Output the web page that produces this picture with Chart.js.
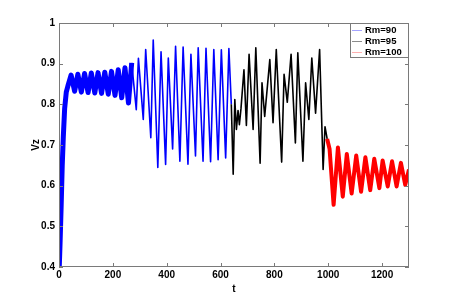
<!DOCTYPE html>
<html>
<head>
<meta charset="utf-8">
<script src="https://cdn.jsdelivr.net/npm/chart.js@4.4.1/dist/chart.umd.min.js"></script>
<style>
  body { margin: 0; background: #fff; }
</style>
</head>
<body>
<canvas id="vzChart" width="452" height="300"></canvas>
<script>
// values (peaks / troughs of each run)
const blueT = [1, 4, 8, 12, 16, 21, 27, 33, 45, 58, 70, 83, 95, 108, 120, 133, 145, 158, 170, 183, 195, 208, 220, 233, 245, 258, 270,
  287, 295, 313, 322, 341, 350, 367, 379, 396, 406, 422, 433, 449, 461, 479, 490, 507, 517, 535, 546, 563, 575, 591, 603, 619, 631, 640];
const blueV = [0.40, 0.46, 0.55, 0.65, 0.72, 0.79, 0.83, 0.845, 0.872, 0.832, 0.874, 0.830, 0.876, 0.829, 0.877, 0.828, 0.878, 0.827, 0.879, 0.825, 0.881, 0.822, 0.885, 0.816, 0.890, 0.803, 0.902,
  0.787, 0.913, 0.763, 0.935, 0.718, 0.958, 0.645, 0.929, 0.652, 0.914, 0.690, 0.943, 0.660, 0.941, 0.653, 0.923, 0.673, 0.939, 0.660, 0.938, 0.659, 0.935, 0.664, 0.934, 0.668, 0.937, 0.80];

const blackT = [640, 647, 653, 659, 665, 670, 676, 687, 696, 706, 721, 731, 747, 754, 764, 783, 795, 807, 827,
  836, 848, 862, 878, 887, 906, 916, 928, 939, 953, 968, 981, 988, 996];
const blackV = [0.80, 0.628, 0.812, 0.738, 0.785, 0.750, 0.790, 0.885, 0.748, 0.923, 0.738, 0.939, 0.655, 0.853, 0.770, 0.910, 0.755, 0.935, 0.658,
  0.874, 0.805, 0.923, 0.705, 0.927, 0.660, 0.853, 0.763, 0.914, 0.778, 0.935, 0.640, 0.745, 0.715];

const redT = [996, 1005, 1020, 1036, 1054, 1069, 1087, 1104, 1122, 1138, 1156, 1171, 1190, 1202, 1221, 1237, 1254, 1270, 1286, 1300];
const redV = [0.715, 0.690, 0.553, 0.694, 0.573, 0.678, 0.581, 0.674, 0.585, 0.670, 0.589, 0.666, 0.594, 0.662, 0.598, 0.660, 0.598, 0.656, 0.602, 0.640];

const xTicks = [0, 200, 400, 600, 800, 1000, 1200];
const yTicks = [0.4, 0.5, 0.6, 0.7, 0.8, 0.9, 1];
const seriesNames = ['Rm=90', 'Rm=95', 'Rm=100'];
const seriesColors = ['#0000ff', '#000000', '#ff0000'];
const legendColors = ['rgba(90,90,255,0.55)', 'rgba(0,0,0,0.45)', 'rgba(255,80,80,0.45)'];

const toPoints = (ts, vs) => ts.map((t, i) => ({ x: t, y: vs[i] }));
const bluePoints = toPoints(blueT, blueV);

const axisGrey = '#7a7a7a';
const tickFont = { family: 'Liberation Sans', size: 10, weight: 'bold' };

// MATLAB style box, inward ticks and legend
const matlabBox = {
  id: 'matlabBox',
  afterDraw(chart) {
    const { ctx, chartArea: a, scales } = chart;
    ctx.save();
    ctx.strokeStyle = axisGrey;
    ctx.lineWidth = 1;
    ctx.strokeRect(a.left + 0.5, a.top + 0.5, a.right - a.left - 1, a.bottom - a.top - 1);
    ctx.beginPath();
    xTicks.forEach(v => {
      const px = Math.round(scales.x.getPixelForValue(v)) + 0.5;
      ctx.moveTo(px, a.bottom); ctx.lineTo(px, a.bottom - 4);
      ctx.moveTo(px, a.top); ctx.lineTo(px, a.top + 4);
    });
    yTicks.forEach(v => {
      const py = Math.round(scales.y.getPixelForValue(v)) + 0.5;
      ctx.moveTo(a.left, py); ctx.lineTo(a.left + 4, py);
      ctx.moveTo(a.right, py); ctx.lineTo(a.right - 4, py);
    });
    ctx.stroke();

    // legend
    const bw = 58, bh = 34;
    const bx = a.right - bw - 1, by = a.top;
    ctx.fillStyle = '#fff';
    ctx.fillRect(bx, by, bw, bh);
    ctx.strokeStyle = axisGrey;
    ctx.strokeRect(bx + 0.5, by + 0.5, bw, bh);
    ctx.font = 'bold 9.5px "Liberation Sans"';
    ctx.textBaseline = 'middle';
    seriesNames.forEach((name, i) => {
      const ry = by + 7.5 + i * 11;
      ctx.strokeStyle = legendColors[i];
      ctx.beginPath();
      ctx.moveTo(bx + 2, ry); ctx.lineTo(bx + 12, ry);
      ctx.stroke();
      ctx.fillStyle = '#000';
      ctx.fillText(name, bx + 15, ry);
    });
    ctx.restore();
  }
};

const line = (data, color, width) => ({
  data, borderColor: color, borderWidth: width, pointRadius: 0,
  tension: 0, borderJoinStyle: 'round', fill: false
});

new Chart('vzChart', {
  type: 'line',
  data: {
    datasets: [
      line(toPoints(redT, redV), seriesColors[2], 4),
      line(toPoints(blackT, blackV), seriesColors[1], 1.6),
      line(bluePoints.filter(p => p.x >= 270), seriesColors[0], 1.6),
      line(bluePoints.filter(p => p.x <= 270), seriesColors[0], 5)
    ]
  },
  options: {
    responsive: false,
    animation: false,
    events: [],
    layout: { padding: { left: 25, right: 43, top: 23, bottom: 0 } },
    plugins: { legend: { display: false }, tooltip: { enabled: false } },
    scales: {
      x: {
        type: 'linear', min: 0, max: 1300,
        grid: { display: false, drawTicks: false },
        border: { display: false },
        ticks: { font: tickFont, color: '#000', padding: 2, maxRotation: 0, callback: v => String(v) },
        afterBuildTicks: s => { s.ticks = xTicks.map(v => ({ value: v })); },
        afterFit: s => { s.height = 33; },
        title: { display: true, text: 't', font: tickFont, color: '#000', padding: { top: 0, bottom: 5 } }
      },
      y: {
        type: 'linear', min: 0.4, max: 1,
        grid: { display: false, drawTicks: false },
        border: { display: false },
        ticks: { font: tickFont, color: '#000', padding: 4, callback: v => String(+v.toFixed(1)) },
        afterBuildTicks: s => { s.ticks = yTicks.map(v => ({ value: v })); },
        afterFit: s => { s.width = 34; },
        title: { display: true, text: 'Vz', font: tickFont, color: '#000', padding: { top: 5, bottom: 0 } }
      }
    }
  },
  plugins: [matlabBox]
});
</script>
</body>
</html>
